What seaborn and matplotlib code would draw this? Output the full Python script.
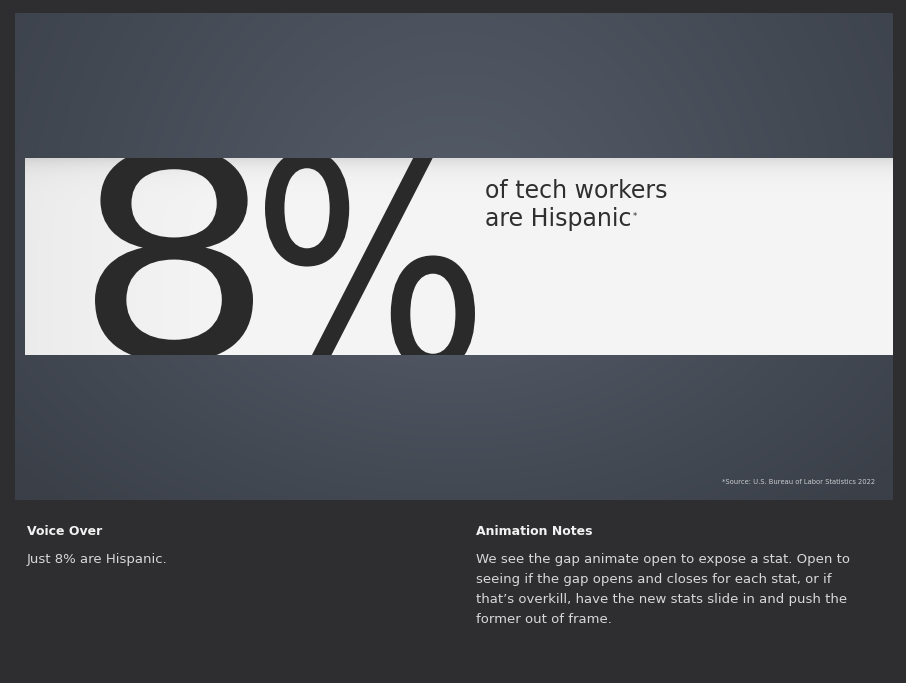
import numpy as np
import matplotlib
matplotlib.use("Agg")
import matplotlib.pyplot as plt
import seaborn as sns
from matplotlib.patches import Rectangle, PathPatch
from matplotlib.textpath import TextPath
from matplotlib.font_manager import FontProperties
from matplotlib.transforms import Affine2D

# -------------------------
# Content
# -------------------------
stat_value = 8
stat_label_lines = ["of tech workers", "are Hispanic"]
source_note = "*Source: U.S. Bureau of Labor Statistics 2022"
voice_title = "Voice Over"
voice_text = ["Just 8% are Hispanic."]
notes_title = "Animation Notes"
notes_text = [
    "We see the gap animate open to expose a stat. Open to",
    "seeing if the gap opens and closes for each stat, or if",
    "that\u2019s overkill, have the new stats slide in and push the",
    "former out of frame.",
]

sns.set_style("white")
plt.rcParams["font.family"] = ["DejaVu Sans"]

W, H = 906, 683
fig = plt.figure(figsize=(W / 100, H / 100), dpi=100)
fig.patch.set_facecolor("#2e2e30")
ax = fig.add_axes([0, 0, 1, 1])
ax.set_xlim(0, W)
ax.set_ylim(H, 0)
ax.axis("off")

# -------------------------
# Slide panel with soft gradient
# -------------------------
px0, px1, py0, py1 = 15, 893, 13, 500
gx, gy = np.meshgrid(np.linspace(-1, 1, 300), np.linspace(-1, 1, 200))
r = np.sqrt(gx ** 2 + (np.clip(gy, 0, None) * 0.9) ** 2 + (np.clip(gy, None, 0) * 0.5) ** 2)
t = np.clip(r / 1.3, 0, 1)
center = np.array([86, 94, 106]) / 255
edge = np.array([58, 63, 72]) / 255
img = center[None, None, :] * (1 - t[..., None]) + edge[None, None, :] * t[..., None]
ax.imshow(img, extent=[px0, px1, py1, py0], aspect="auto", zorder=1)

# white band
by0, by1 = 158, 355
bx0, bx1 = 25, 893
bg = np.linspace(0, 1, 600)
band = np.ones((80, 600, 3))
shade = 0.92 + 0.04 * np.clip(bg / 0.25, 0, 1) ** 0.7
band *= shade[None, :, None]
vy = np.linspace(0, 1, 80)
band *= (1 - 0.10 * np.exp(-vy / 0.05))[:, None, None]
ax.imshow(band, extent=[bx0, bx1, by1, by0], aspect="auto", zorder=2,
          interpolation="bilinear")
clip = Rectangle((bx0, by0), bx1 - bx0, by1 - by0, transform=ax.transData)


def glyph(ch, x0, x1, top, bot):
    # fit one glyph outline into a box, clipped by the band
    tp = TextPath((0, 0), ch, size=100,
                  prop=FontProperties(family="DejaVu Sans", weight="normal"))
    ext = tp.get_extents()
    tr = (Affine2D().translate(-ext.x0, -ext.y1)
          .scale((x1 - x0) / ext.width, -(bot - top) / ext.height)
          .translate(x0, top))
    p = PathPatch(tr.transform_path(tp), facecolor="#2a2a2a", edgecolor="none",
                  zorder=3, transform=ax.transData)
    ax.add_patch(p)
    p.set_clip_path(clip)


glyph(str(stat_value), 95, 253, 147, 362)
glyph("%", 265, 475, 150, 372)

lbl1 = ax.text(485, 198, stat_label_lines[0], fontsize=17, color="#2f2f2f",
               va="baseline", ha="left", zorder=3)
lbl2 = ax.text(485, 226, stat_label_lines[1], fontsize=17, color="#2f2f2f",
               va="baseline", ha="left", zorder=3)
ax.annotate("*", xy=(1, 0.8), xycoords=lbl2, xytext=(1, 0),
            textcoords="offset points", fontsize=6, color="#2f2f2f",
            va="top", ha="left", zorder=3)

ax.text(875, 484, source_note, fontsize=4.9, color="#c8cbd0",
        ha="right", va="baseline", zorder=3)

# -------------------------
# Notes area
# -------------------------
ax.text(27, 535, voice_title, fontsize=9, fontweight="bold", color="#f2f2f2",
        va="baseline")
for i, line in enumerate(voice_text):
    ax.text(27, 563 + 20 * i, line, fontsize=9.5, color="#d8d8d8", va="baseline")

ax.text(476, 535, notes_title, fontsize=9, fontweight="bold", color="#f2f2f2",
        va="baseline")
for i, line in enumerate(notes_text):
    ax.text(476, 563 + 20 * i, line, fontsize=9.5, color="#d8d8d8", va="baseline")

fig.savefig("out.png", dpi=100, facecolor=fig.get_facecolor())
